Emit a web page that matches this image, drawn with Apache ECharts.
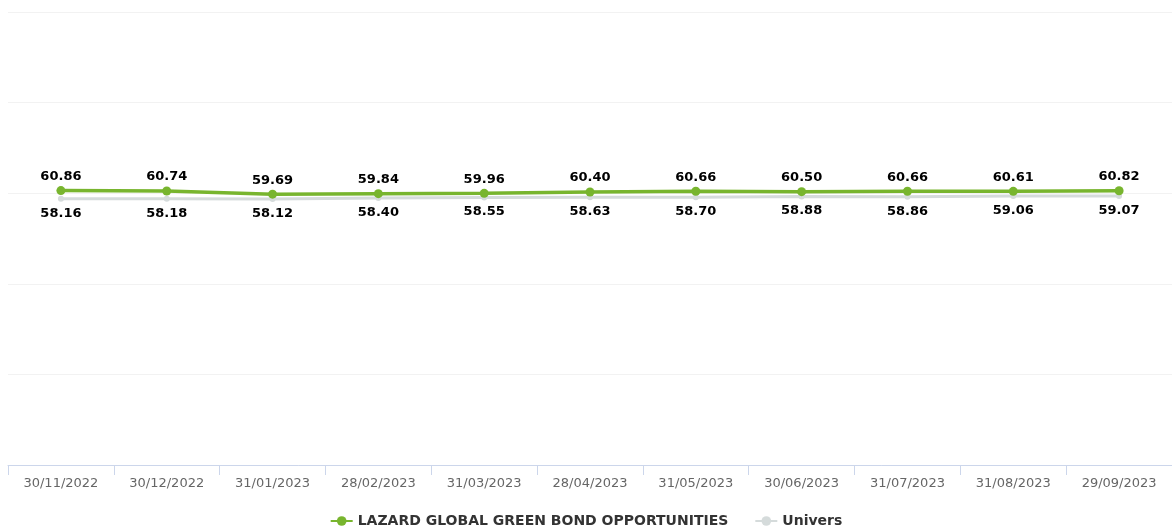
<!DOCTYPE html>
<html>
<head>
<meta charset="utf-8">
<script src="https://cdn.jsdelivr.net/npm/echarts@6/dist/echarts.min.js"></script>
<style>
  html, body { margin: 0; padding: 0; background: #fff; }
  #chart { width: 1172px; height: 527px; }
</style>
</head>
<body>
<div id="chart"></div>
<script>
const dates = ["30/11/2022", "30/12/2022", "31/01/2023", "28/02/2023", "31/03/2023", "28/04/2023",
    "31/05/2023", "30/06/2023", "31/07/2023", "31/08/2023", "29/09/2023"];
const fundValues = [60.86, 60.74, 59.69, 59.84, 59.96, 60.40, 60.66, 60.50, 60.66, 60.61, 60.82];
const universValues = [58.16, 58.18, 58.12, 58.40, 58.55, 58.63, 58.70, 58.88, 58.86, 59.06, 59.07];
const fundName = "LAZARD GLOBAL GREEN BOND OPPORTUNITIES";
const universName = "Univers";

const font = "DejaVu Sans";
const chart = echarts.init(document.getElementById("chart"));
chart.setOption({
    animation: false,
    textStyle: { fontFamily: font },
    grid: { left: 8, right: 0, top: 12, bottom: 62 },
    legend: {
        top: 509,
        left: "center",
        itemGap: 26,
        itemWidth: 22,
        itemHeight: 12,
        textStyle: { fontFamily: font, fontWeight: "bold", fontSize: 14, color: "#333" },
        data: [fundName, universName],
    },
    xAxis: {
        type: "category",
        data: dates,
        z: 5,
        axisLine: { show: true, onZero: false, lineStyle: { color: "#ccd6eb", width: 1 } },
        axisTick: { show: true, length: 10, lineStyle: { color: "#ccd6eb" } },
        axisLabel: { color: "#666", fontSize: 13, margin: 12, fontFamily: font },
    },
    yAxis: {
        type: "value",
        min: -30,
        max: 120,
        interval: 30,
        axisLabel: { show: false },
        axisLine: { show: false },
        axisTick: { show: false },
        splitLine: { lineStyle: { color: "#f2f2f2" } },
    },
    series: [
        {
            name: universName,
            type: "line",
            data: universValues,
            symbol: "circle",
            symbolSize: 6,
            itemStyle: { color: "#d5dbdb" },
            lineStyle: { color: "#d5dbdb", width: 3 },
            label: {
                show: true,
                position: "bottom",
                distance: 5,
                fontFamily: font,
                fontWeight: "bold",
                fontSize: 13,
                color: "#000",
                textBorderColor: "#fff",
                textBorderWidth: 2,
                formatter: p => p.value.toFixed(2),
            },
        },
        {
            name: fundName,
            type: "line",
            data: fundValues,
            symbol: "circle",
            symbolSize: 9,
            itemStyle: { color: "#78b52e" },
            lineStyle: { color: "#78b52e", width: 3.5 },
            label: {
                show: true,
                position: "top",
                distance: 3,
                fontFamily: font,
                fontWeight: "bold",
                fontSize: 13,
                color: "#000",
                textBorderColor: "#fff",
                textBorderWidth: 2,
                formatter: p => p.value.toFixed(2),
            },
        },
    ],
});
</script>
</body>
</html>
